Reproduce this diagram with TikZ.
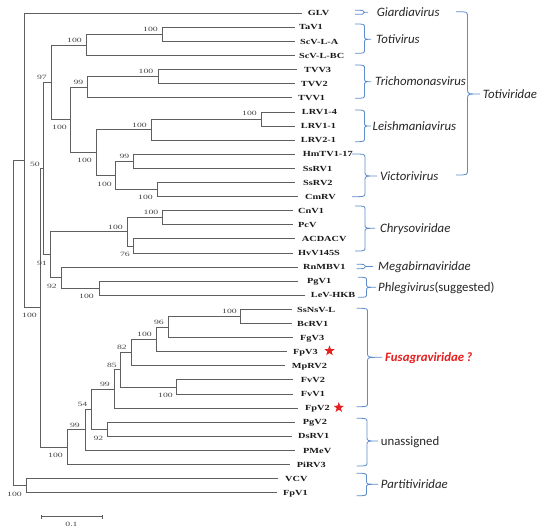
\documentclass[tikz,border=0pt]{standalone}
\usepackage{fontspec}
\usetikzlibrary{shapes.geometric}
\newfontfamily\leaffont[FakeStretch=1.32]{Liberation Serif}
\newfontfamily\bootfont[FakeStretch=1.5]{Liberation Serif}
\newfontfamily\grpfont{Carlito}
\definecolor{treegray}{RGB}{95,95,95}
\definecolor{braceblue}{RGB}{95,140,205}
\definecolor{fusared}{RGB}{232,30,30}
\definecolor{leafink}{RGB}{25,25,25}
\tikzset{
  branch/.style={draw=treegray, line width=0.85pt},
  leaflab/.style={anchor=base west, inner sep=0pt, text=leafink,
    font=\leaffont\bfseries\fontsize{7.8}{9}\selectfont},
  boot/.style={anchor=base east, inner sep=0pt, text=leafink!80,
    font=\bootfont\fontsize{6.5}{8}\selectfont},
  bracestroke/.style={draw=braceblue, line width=0.8pt},
  grp/.style={anchor=base west, inner sep=0pt, text=black!85,
    font=\grpfont\fontsize{12.8}{15}\selectfont},
  redstar/.style={star, star points=5, star point ratio=2.5, fill=fusared,
    draw=none, inner sep=0pt, minimum size=11pt},
}
% leaf: parent, id, y, end x, text x, text
\newcommand\leaf[6]{%
  \coordinate (e#2) at (#4,#3);
  \node[leaflab] (#2) at (#5,#3+2.6) {#6};
  \draw[branch] (#1) |- (e#2);
}
% bootstrap: id, right x, centre y, value
\newcommand\boot[4]{\node[boot] (b#1) at (#2,#3+2.2) {#4};}
% brace: x0, x1, x2, ytop, ymid, ybot, r
\newcommand\gbrace[7]{%
  \draw[bracestroke] (#1,#4) .. controls (#2,#4) .. (#2,#4+#7) -- (#2,#5-#7)
    .. controls (#2,#5) .. (#3,#5) .. controls (#2,#5) .. (#2,#5+#7)
    -- (#2,#6-#7) .. controls (#2,#6) .. (#1,#6);
}
\begin{document}
\begin{tikzpicture}[x=1pt,y=-1pt]
\path[use as bounding box, fill=white] (0,0) rectangle (550,530);
% internal nodes
\coordinate (root) at (13,323.1);
\coordinate (A) at (24.3,160.6);
\coordinate (nPar) at (26,485.65);
\coordinate (B) at (40.7,307.85);
\coordinate (C) at (43.3,168.6);
\coordinate (D) at (67.3,447.1);
\coordinate (E) at (51.7,82.45);
\coordinate (H) at (50.7,254.8);
\coordinate (nToti) at (86.7,45.0);
\coordinate (n1) at (162.3,34.45);
\coordinate (F) at (70,119.9);
\coordinate (nTri) at (87.7,87.3);
\coordinate (n2) at (158.3,76.75);
\coordinate (G) at (96.7,152.5);
\coordinate (nLei) at (151.7,129.6);
\coordinate (n3) at (261.7,119.05);
\coordinate (nVic) at (115,175.45);
\coordinate (n4) at (133.3,161.35);
\coordinate (n5) at (157.3,189.55);
\coordinate (nChr) at (127.7,231.85);
\coordinate (n6) at (162.7,217.75);
\coordinate (n7) at (133.3,245.95);
\coordinate (P) at (61.7,277.7);
\coordinate (n8) at (99,288.25);
\coordinate (n18) at (85,429.75);
\coordinate (n17) at (91,409.1);
\coordinate (n16) at (107.3,429.25);
\coordinate (n15) at (114.3,388.95);
\coordinate (n14) at (120,369.8);
\coordinate (n13) at (176.7,386.95);
\coordinate (n12) at (131,352.6);
\coordinate (n11) at (156,339.35);
\coordinate (n10) at (168.3,327.0);
\coordinate (n9) at (240.7,316.45);
% internal branches
\foreach \p/\c in {root/A, root/nPar, A/B, B/C, B/D, C/E, C/H, E/nToti, E/F,
  nToti/n1, F/nTri, F/G, nTri/n2, G/nLei, G/nVic, nLei/n3, nVic/n4, nVic/n5,
  H/nChr, H/P, nChr/n6, nChr/n7, P/n8, D/n18, n18/n17, n17/n15, n17/n16,
  n15/n14, n14/n12, n14/n13, n12/n11, n11/n10, n10/n9}
  \draw[branch] (\p) |- (\c);
% leaves
\leaf{A}{GLV}{13.3}{301.7}{307.7}{GLV}
\leaf{n1}{TaV1}{27.4}{295}{299}{TaV1}
\leaf{n1}{ScVLA}{41.5}{295}{300}{ScV-L-A}
\leaf{nToti}{ScVLBC}{55.6}{295}{299}{ScV-L-BC}
\leaf{n2}{TVV3}{69.7}{296.7}{304}{TVV3}
\leaf{n2}{TVV2}{83.8}{295}{300.7}{TVV2}
\leaf{nTri}{TVV1}{97.9}{291.7}{298}{TVV1}
\leaf{n3}{LRVa}{112}{295}{301.7}{LRV1-4}
\leaf{n3}{LRVb}{126.1}{295}{300.7}{LRV1-1}
\leaf{nLei}{LRVc}{140.2}{295}{300.7}{LRV2-1}
\leaf{n4}{HmTV}{154.3}{295}{302.7}{HmTV1-17}
\leaf{n4}{SsRVa}{168.4}{295}{302.7}{SsRV1}
\leaf{n5}{SsRVb}{182.5}{295}{303}{SsRV2}
\leaf{n5}{CmRV}{196.6}{298}{305}{CmRV}
\leaf{n6}{CnV}{210.7}{293}{298}{CnV1}
\leaf{n6}{PcV}{224.8}{293}{298}{PcV}
\leaf{n7}{ACD}{238.9}{295}{301.7}{ACDACV}
\leaf{n7}{HvV}{253}{293}{298}{HvV145S}
\leaf{P}{RnM}{267.1}{298}{303}{RnMBV1}
\leaf{n8}{PgVa}{281.2}{298}{307}{PgV1}
\leaf{n8}{LeV}{295.3}{305}{310.7}{LeV-HKB}
\leaf{n9}{SsNs}{309.4}{291.7}{297}{SsNsV-L}
\leaf{n9}{BcRV}{323.5}{291.7}{297}{BcRV1}
\leaf{n10}{FgV}{337.6}{293}{300}{FgV3}
\leaf{n11}{FpVc}{351.7}{286.7}{293}{FpV3}
\leaf{n12}{MpRV}{365.8}{285}{291.7}{MpRV2}
\leaf{n13}{FvVb}{379.9}{293}{300.7}{FvV2}
\leaf{n13}{FvVa}{394}{293}{300.7}{FvV1}
\leaf{n15}{FpVb}{408.1}{298}{305}{FpV2}
\leaf{n16}{PgVb}{422.2}{295}{302.7}{PgV2}
\leaf{n16}{DsRV}{436.3}{291.7}{298}{DsRV1}
\leaf{n18}{PMeV}{450.4}{295}{303}{PMeV}
\leaf{D}{PiRV}{464.5}{290}{296.7}{PiRV3}
\leaf{nPar}{VCV}{478.6}{278}{285}{VCV}
\leaf{nPar}{FpVa}{492.7}{276.7}{283}{FpV1}
% stars
\node[redstar] (starA) at (329.5,350.8) {};
\node[redstar] (starB) at (338.8,407.5) {};
% bootstrap values
\boot{n1}{158}{29.5}{100}
\boot{nToti}{82}{40}{100}
\boot{E}{47}{77.3}{97}
\boot{n2}{153.5}{71.7}{100}
\boot{nTri}{83.5}{82.5}{99}
\boot{F}{67}{127.7}{100}
\boot{n3}{257}{113}{100}
\boot{nLei}{147}{125}{100}
\boot{G}{92}{160.7}{100}
\boot{n4}{129.5}{156}{99}
\boot{nVic}{112}{184}{100}
\boot{n5}{153}{197.7}{100}
\boot{C}{40}{164}{50}
\boot{nChr}{123}{227.3}{100}
\boot{n6}{158.5}{212.7}{100}
\boot{n7}{130}{254}{76}
\boot{H}{47}{263.3}{91}
\boot{P}{57}{286}{92}
\boot{n8}{94}{296}{100}
\boot{B}{37}{315.7}{100}
\boot{n9}{237}{311.7}{100}
\boot{n10}{164}{322}{96}
\boot{n11}{152}{334.3}{100}
\boot{n12}{127}{347.3}{82}
\boot{n14}{117}{365}{85}
\boot{n13}{173}{395}{100}
\boot{n15}{110}{384}{99}
\boot{n17}{87.5}{404}{54}
\boot{n16}{103.5}{438.3}{92}
\boot{n18}{80}{425}{99}
\boot{D}{63}{455}{100}
\boot{nPar}{22}{494}{100}
% scale bar
\coordinate (sbL) at (41.7,516.7);
\coordinate (sbR) at (102.3,516.7);
\draw[branch] (sbL) -- (sbR);
\draw[branch] ([yshift=-2pt]sbL) -- ([yshift=2pt]sbL);
\draw[branch] ([yshift=-2pt]sbR) -- ([yshift=2pt]sbR);
\node[boot, anchor=base] (sbT) at (71.5,526.2) {0.1};
% braces
\gbrace{355}{363.5}{368}{10.3}{12.3}{14.3}{1}
\gbrace{355}{364.5}{371}{24}{39.3}{53.3}{4}
\gbrace{355}{364.5}{371}{65}{81.7}{98.3}{4}
\gbrace{355}{364.5}{371}{110}{126}{141.7}{4}
\gbrace{352}{365}{377}{154}{176}{196.7}{4}
\gbrace{456}{467.5}{480}{11.7}{94}{175}{5}
\gbrace{355}{365}{375}{206}{228.3}{251}{4}
\gbrace{356.7}{364.5}{373}{264.3}{266.5}{268.7}{1.1}
\gbrace{358}{366.5}{376}{277.3}{287.3}{297.3}{3.5}
\gbrace{356.7}{367.5}{382}{308.3}{357.3}{406.7}{4}
\gbrace{356.7}{367}{378}{418.3}{441}{466}{4}
\gbrace{356.7}{366.5}{378}{473.3}{484.3}{495.7}{3.5}
% group labels
\node[grp] (gGiar) at (376.7,12.3+4.1) {\itshape Giardiavirus};
\node[grp] (gToti) at (376,39.3+4.1) {\itshape Totivirus};
\node[grp] (gTric) at (375,81.7+4.1) {\itshape Trichomonasvirus};
\node[grp] (gLeis) at (372.5,126+4.1) {\itshape Leishmaniavirus};
\node[grp] (gVict) at (380,176+4.1) {\itshape Victorivirus};
\node[grp] (gTotd) at (482.7,94+4.1) {\itshape Totiviridae};
\node[grp] (gChry) at (380,228.3+4.1) {\itshape Chrysoviridae};
\node[grp] (gMega) at (378,266.5+4.1) {\itshape Megabirnaviridae};
\node[grp] (gPhle) at (378,287.3+4.1) {\textit{Phlegivirus}(suggested)};
\node[grp, text=fusared] (gFusa) at (385,357.3+4.1) {\bfseries\itshape Fusagraviridae\,?};
\node[grp] (gUnas) at (380.7,441+4.1) {unassigned};
\node[grp] (gPart) at (380.7,484.3+4.1) {\itshape Partitiviridae};
\end{tikzpicture}
\end{document}
